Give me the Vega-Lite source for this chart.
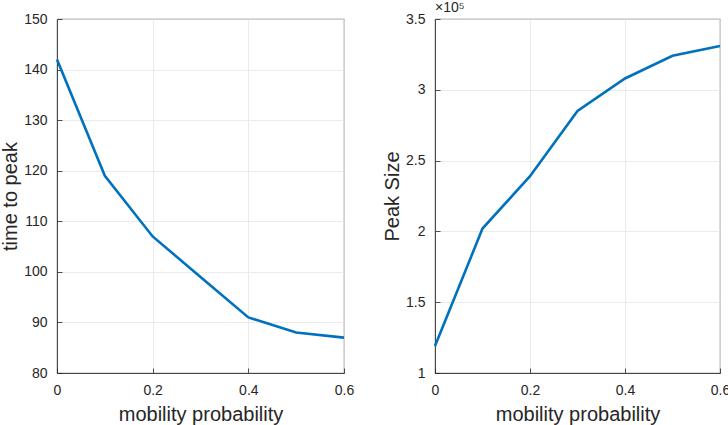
{
  "$schema": "https://vega.github.io/schema/vega-lite/v6.json",
  "background": "white",
  "padding": {"left": 0, "top": 0, "right": 8, "bottom": 0},
  "spacing": 91,
  "bounds": "flush",
  "config": {
    "font": "Liberation Sans",
    "view": {"stroke": "#262626", "strokeWidth": 0.8},
    "axis": {
      "labelFont": "Liberation Sans",
      "titleFont": "Liberation Sans",
      "labelFontSize": 14,
      "titleFontSize": 20,
      "titleFontWeight": "normal",
      "labelColor": "#262626",
      "titleColor": "#262626",
      "domainColor": "#262626",
      "domainWidth": 0.8,
      "tickColor": "#262626",
      "tickSize": -5,
      "tickWidth": 0.8,
      "gridColor": "#e6e6e6",
      "gridWidth": 0.8
    },
    "axisX": {"labelPadding": 15, "titlePadding": 7},
    "axisY": {"labelPadding": 15, "titlePadding": 3}
  },
  "datasets": {
    "t": [
      {"p": 0.0, "time": 142},
      {"p": 0.1, "time": 119},
      {"p": 0.2, "time": 107},
      {"p": 0.3, "time": 99},
      {"p": 0.4, "time": 91},
      {"p": 0.5, "time": 88},
      {"p": 0.6, "time": 87}
    ],
    "s": [
      {"p": 0.0, "size": 119000},
      {"p": 0.1, "size": 202000},
      {"p": 0.2, "size": 239000},
      {"p": 0.3, "size": 285000},
      {"p": 0.4, "size": 308000},
      {"p": 0.5, "size": 324000},
      {"p": 0.6, "size": 331000}
    ]
  },
  "hconcat": [
    {
      "width": 287,
      "height": 354,
      "data": {"name": "t"},
      "mark": {"type": "line", "color": "#0072BD", "strokeWidth": 2.6},
      "encoding": {
        "x": {"field": "p", "type": "quantitative", "title": "mobility probability",
              "scale": {"domain": [0, 0.6], "nice": false},
              "axis": {"values": [0, 0.2, 0.4, 0.6], "format": ".1~f", "labelFlush": false}},
        "y": {"field": "time", "type": "quantitative", "title": "time to peak",
              "scale": {"domain": [80, 150], "nice": false, "zero": false},
              "axis": {"values": [80, 90, 100, 110, 120, 130, 140, 150], "labelFlush": false}}
      }
    },
    {
      "width": 285,
      "height": 354,
      "title": {"text": "×10⁵", "anchor": "start", "frame": "group", "fontSize": 14, "fontWeight": "normal", "color": "#262626", "font": "Liberation Sans", "offset": -3},
      "data": {"name": "s"},
      "mark": {"type": "line", "color": "#0072BD", "strokeWidth": 2.6},
      "encoding": {
        "x": {"field": "p", "type": "quantitative", "title": "mobility probability",
              "scale": {"domain": [0, 0.6], "nice": false},
              "axis": {"values": [0, 0.2, 0.4, 0.6], "format": ".1~f", "labelFlush": false}},
        "y": {"field": "size", "type": "quantitative", "title": "Peak Size",
              "scale": {"domain": [100000, 350000], "nice": false, "zero": false},
              "axis": {"values": [100000, 150000, 200000, 250000, 300000, 350000],
                       "labelExpr": "format(datum.value / 100000, '.1~f')", "labelFlush": false}}
      }
    }
  ]
}
